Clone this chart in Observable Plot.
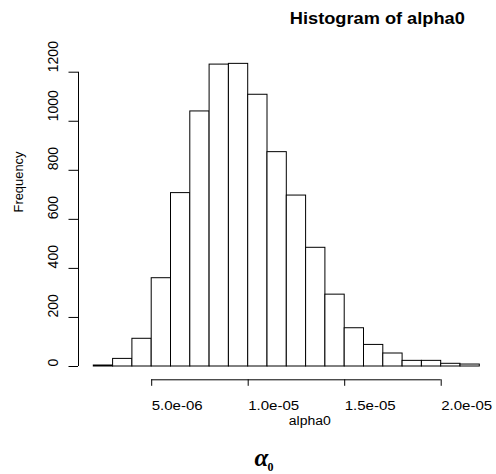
<!DOCTYPE html>
<html>
<head>
<meta charset="utf-8">
<script src="https://cdn.jsdelivr.net/npm/d3@7"></script>
<script src="https://cdn.jsdelivr.net/npm/@observablehq/plot@0.6"></script>
<style>
  html, body { margin: 0; padding: 0; background: white; }
</style>
</head>
<body>
<div id="chart"></div>
<script>
// Histogram bins (alpha0) and frequencies
const binEdges = [2e-6, 3e-6, 4e-6, 5e-6, 6e-6, 7e-6, 8e-6, 9e-6, 10e-6, 11e-6, 12e-6,
                  13e-6, 14e-6, 15e-6, 16e-6, 17e-6, 18e-6, 19e-6, 20e-6, 21e-6, 22e-6];
const counts = [4, 31, 113, 360, 707, 1040, 1231, 1234, 1108, 874, 697, 484, 293, 156, 88, 53, 23, 23, 11, 8];
const xTicks = [5e-6, 10e-6, 15e-6, 20e-6];
const xTickLabels = ["5.0e-06", "1.0e-05", "1.5e-05", "2.0e-05"];
const yTicks = [0, 200, 400, 600, 800, 1000, 1200];
const yTickLabels = ["0", "200", "400", "600", "800", "1000", "1200"];
const title = "Histogram of alpha0";
const xLabel = "alpha0";
const yLabel = "Frequency";

const bins = counts.map((c, i) => ({x1: binEdges[i], x2: binEdges[i + 1], count: c}));
const xMin = binEdges[0];
const xMax = binEdges[binEdges.length - 1];

const W = 496, H = 474;
const marginLeft = 78, marginTop = 71.7, marginBottom = H - 366;
const axisOffsetX = -15.3; // y-axis line left of the first bar

const svg = Plot.plot({
  width: W,
  height: H,
  marginLeft, marginTop, marginBottom, marginRight: 0,
  style: {fontFamily: "'Liberation Sans', Arial, sans-serif", background: "white", color: "black"},
  x: {domain: [xMin, xMax], range: [93.3, 479.3], axis: null},
  y: {domain: [0, 1200], axis: null},
  marks: [
    Plot.rectY(bins, {x1: "x1", x2: "x2", y: "count", fill: "white", stroke: "black", strokeWidth: 1, inset: 0}),
    // y axis line and ticks
    Plot.ruleX([xMin], {y1: 0, y2: 1200, dx: axisOffsetX, stroke: "black", strokeWidth: 1}),
    Plot.ruleY(yTicks, {x1: xMin, x2: xMin, dx: axisOffsetX, insetLeft: -9.5, stroke: "black", strokeWidth: 1}),
    Plot.text(yTicks, {y: d => d, frameAnchor: "left", dx: -21, rotate: -90, textAnchor: "start", lineAnchor: "bottom",
      text: (d, i) => yTickLabels[i], fontSize: 14, fill: "black"}),
    // x axis line and ticks
    Plot.ruleY([0], {x1: xTicks[0], x2: xTicks[xTicks.length - 1], dy: 13.3, stroke: "black", strokeWidth: 1}),
    Plot.ruleX(xTicks, {y1: 0, y2: 0, dy: 13.3, insetBottom: -6.5, stroke: "black", strokeWidth: 1}),
    Plot.text(xTicks, {x: d => d, frameAnchor: "bottom", dy: 43, textAnchor: "start", lineAnchor: "bottom",
      text: (d, i) => xTickLabels[i], fontSize: 12, fill: "black"}),
    // titles
    Plot.text([title], {frameAnchor: "top-left", dx: 289.3 - marginLeft, dy: 23.3 - marginTop, textAnchor: "start",
      lineAnchor: "bottom", fontSize: 16, fontWeight: "bold", fill: "black"}),
    Plot.text([xLabel], {frameAnchor: "bottom-left", dx: 288.3 - marginLeft, dy: 58, textAnchor: "start",
      lineAnchor: "bottom", fontSize: 12, fill: "black"}),
    Plot.text(["α"], {frameAnchor: "bottom-left", dx: 254 - marginLeft, dy: 99, textAnchor: "start",
      lineAnchor: "bottom", fontSize: 25, fontWeight: "bold", fontStyle: "italic",
      fontFamily: "'Liberation Serif', 'DejaVu Serif', serif", fill: "black"}),
    Plot.text(["0"], {frameAnchor: "bottom-left", dx: 267 - marginLeft, dy: 104.5, textAnchor: "start",
      lineAnchor: "bottom", fontSize: 12, fontWeight: "bold",
      fontFamily: "'Liberation Serif', 'DejaVu Serif', serif", fill: "black"}),
    Plot.text([yLabel], {frameAnchor: "left", dx: 22.5 - marginLeft, dy: 212 - (marginTop + 366) / 2, rotate: -90,
      textAnchor: "start", lineAnchor: "bottom", fontSize: 13, fill: "black"})
  ]
});

// stretch texts horizontally to match the reference's wide lettering
const widths = new Map([[title, 175], [xLabel, 42], [yLabel, 61]]);
xTickLabels.forEach(t => widths.set(t, 51));
d3.select(svg).selectAll("text").each(function() {
  const t = this.textContent;
  if (widths.has(t)) {
    d3.select(this).attr("textLength", widths.get(t)).attr("lengthAdjust", "spacingAndGlyphs");
  }
});

document.getElementById("chart").appendChild(svg);
</script>
</body>
</html>
